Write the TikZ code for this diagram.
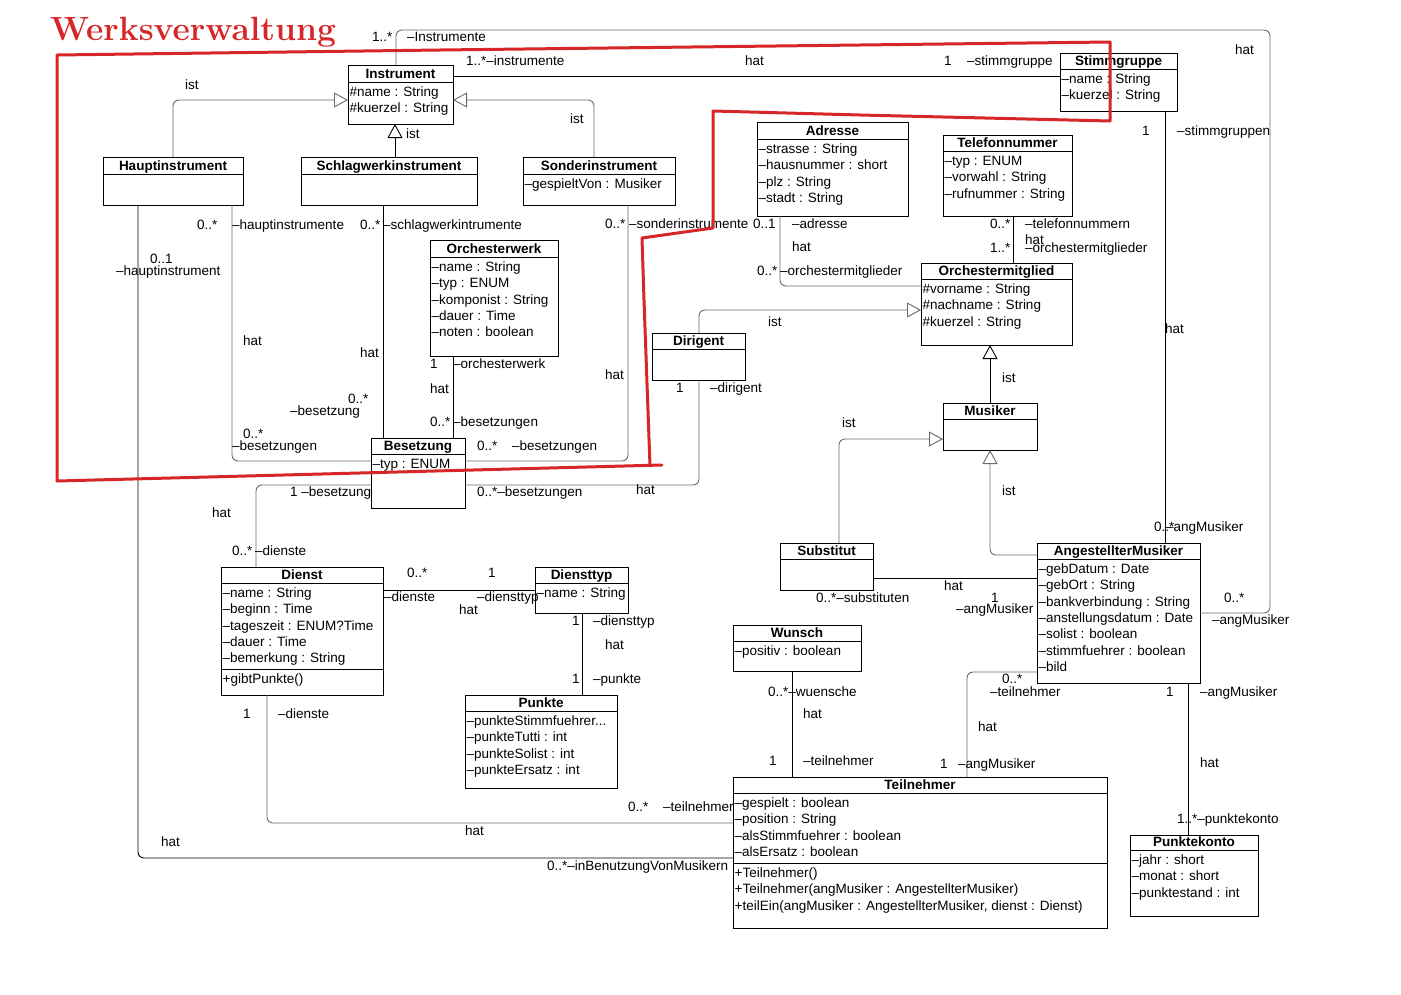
\documentclass[tikz,border=0pt]{standalone}
\usepackage{fontspec}
\newfontfamily\umlfont{Liberation Sans}
\usetikzlibrary{arrows.meta}
\definecolor{redmark}{RGB}{214,38,40}
\definecolor{connGray}{RGB}{105,105,105}
\tikzset{
 box/.style={draw=black, fill=white, line width=.9pt, inner sep=0pt, outer sep=0pt},
 sepline/.style={draw=black, line width=.9pt},
 ttl/.style={anchor=base, inner sep=0pt, font=\umlfont\bfseries\fontsize{13.5}{16}\selectfont},
 attr/.style={anchor=base west, inner sep=0pt, font=\umlfont\fontsize{13.5}{16}\selectfont},
 lbl/.style={anchor=base west, inner sep=0pt, font=\umlfont\fontsize{13.5}{16}\selectfont},
 assoc/.style={draw=black, line width=.9pt, rounded corners=6pt},
 assocg/.style={assoc, draw=connGray},
 gen/.style={draw=connGray, line width=.9pt, rounded corners=6pt, -{Triangle[open, length=14pt, width=15pt]}},
 redline/.style={draw=redmark, line width=3pt, line join=round, line cap=round},
 titlefont/.style={anchor=base west, inner sep=0pt, text=redmark, font=\bfseries\fontsize{33.6}{40}\selectfont},
}
\newcommand\umlbox[7]{%
 \node[box, minimum width={#4-#2}, minimum height={#5-#3}] (#1) at ({(#2+#4)/2},{(#3+#5)/2}) {};
 \draw[sepline] (#1.west |- 0,#6) -- (#1.east |- 0,#6);
 \node[ttl] (#1-t) at ({(#2+#4)/2},#6-3.5) {#7};
}
\newcommand\umllines[4]{%
 \foreach \umlt [count=\umli] in {#4} {\node[attr] (#1\umli) at (#2+1.5,#3+16.3*\umli-16.3) {\umlt};}
}
\newcommand\lab[4]{\node[lbl] (#1) at (#2,#3+4.5) {#4};}
\begin{document}
\begin{tikzpicture}[x=1pt,y=-1pt]
\useasboundingbox (0,0) rectangle (1401,994);

% ---------- classes ----------
\umlbox{inst}{348}{65}{453}{124}{82}{Instrument}
\umllines{inst-a}{348}{96.5}{\#name : String, \#kuerzel : String}
\umlbox{haupt}{103}{157}{243}{205}{174}{Hauptinstrument}
\umlbox{schlag}{301}{157}{477}{205}{174}{Schlagwerkinstrument}
\umlbox{sonder}{523}{157}{675}{205}{174}{Sonderinstrument}
\umllines{sonder-a}{523}{188.5}{–gespieltVon : Musiker}
\umlbox{stimm}{1060}{53}{1177}{111}{69}{Stimmgruppe}
\umllines{stimm-a}{1060}{83.5}{–name : String, –kuerzel : String}
\umlbox{adr}{757}{122}{908}{216}{139}{Adresse}
\umllines{adr-a}{757}{153.5}{–strasse : String, –hausnummer : short, –plz : String, –stadt : String}
\umlbox{tel}{943}{135}{1072}{216}{151}{Telefonnummer}
\umllines{tel-a}{943}{165.5}{–typ : ENUM, –vorwahl : String, –rufnummer : String}
\umlbox{werk}{430}{240}{558}{356}{257}{Orchesterwerk}
\umllines{werk-a}{430}{271.5}{–name : String, –typ : ENUM, –komponist : String, –dauer : Time, –noten : boolean}
\umlbox{bes}{371}{438}{465}{508}{454}{Besetzung}
\umllines{bes-a}{371}{468.5}{–typ : ENUM}
\umlbox{om}{921}{263}{1072}{345}{279}{Orchestermitglied}
\umllines{om-a}{921}{293.5}{\#vorname : String, \#nachname : String, \#kuerzel : String}
\umlbox{dir}{652}{333}{745}{380}{349}{Dirigent}
\umlbox{mus}{943}{403}{1037}{450}{419}{Musiker}
\umlbox{sub}{780}{543}{873}{590}{559}{Substitut}
\umlbox{ang}{1037}{543}{1200}{683}{559}{AngestellterMusiker}
\umllines{ang-a}{1037}{573.5}{–gebDatum : Date, –gebOrt : String, –bankverbindung : String, –anstellungsdatum : Date, –solist : boolean, –stimmfuehrer : boolean, –bild}
\umlbox{dienst}{221}{567}{383}{695}{583}{Dienst}
\umllines{dienst-a}{221}{597.5}{–name : String, –beginn : Time, –tageszeit : ENUM?Time, –dauer : Time, –bemerkung : String}
\draw[sepline] (dienst.west |- 0,669) -- (dienst.east |- 0,669);
\umllines{dienst-m}{221}{683.5}{+gibtPunkte()}
\umlbox{dtyp}{535}{567}{628}{613}{583}{Diensttyp}
\umllines{dtyp-a}{535}{597.5}{–name : String}
\umlbox{punkte}{465}{695}{617}{788}{711}{Punkte}
\umllines{punkte-a}{465}{725.5}{–punkteStimmfuehrer.{}.{}., –punkteTutti : int, –punkteSolist : int, –punkteErsatz : int}
\umlbox{wunsch}{733}{625}{861}{671}{641}{Wunsch}
\umllines{wunsch-a}{733}{655.5}{–positiv : boolean}
\umlbox{teil}{733}{777}{1107}{928}{793}{Teilnehmer}
\umllines{teil-a}{733}{807.5}{–gespielt : boolean, –position : String, –alsStimmfuehrer : boolean, –alsErsatz : boolean}
\draw[sepline] (teil.west |- 0,863) -- (teil.east |- 0,863);
\umllines{teil-m}{733}{877.5}{+Teilnehmer(), +Teilnehmer(angMusiker : AngestellterMusiker), {+teilEin(angMusiker : AngestellterMusiker, dienst : Dienst)}}
\umlbox{pk}{1130}{835}{1258}{916}{850}{Punktekonto}
\umllines{pk-a}{1130}{864.5}{–jahr : short, –monat : short, –punktestand : int}

% ---------- generalisations ----------
\draw[gen] (haupt.north -| 173,0) |- (inst.west |- 0,100);
\draw[gen,draw=black] (schlag.north -| 395,0) -- (inst.south -| 395,0);
\draw[gen] (sonder.north -| 594,0) |- (inst.east |- 0,100);
\draw[gen] (dir.north -| 699,0) |- (om.west |- 0,310);
\draw[gen,draw=black] (mus.north -| 990,0) -- (om.south -| 990,0);
\draw[gen] (sub.north -| 839,0) |- (mus.west |- 0,439);
\draw[gen] (ang.west |- 0,555) -| (mus.south -| 990,0);

% ---------- associations ----------
\coordinate (loopcorner) at (1270,30);
\draw[assoc] (inst.east |- 0,76) -- (stimm.west |- 0,76);
\draw[assocg] (inst.north -| 396,0) |- (loopcorner) |- (ang.east |- 0,613);
\draw[assoc] (stimm.south -| 1165,0) -- (ang.north -| 1165,0);
\draw[assoc] (tel.south -| 1013,0) -- (om.north -| 1013,0);
\draw[assocg] (adr.south -| 780,0) |- (om.west |- 0,286);
\draw[assocg] (haupt.south -| 232,0) |- (bes.west |- 0,461);
\draw[assoc] (schlag.south -| 383,0) -- (bes.north -| 383,0);
\draw[assoc] (werk.south -| 453,0) -- (bes.north -| 453,0);
\draw[assocg] (sonder.south -| 628,0) |- (bes.east |- 0,461);
\draw[assocg] (bes.west |- 0,485) -| (dienst.north -| 256,0);
\draw[assocg] (bes.east |- 0,485) -| (dir.south -| 699,0);
\draw[assoc] (haupt.south -| 138,0) |- (teil.west |- 0,858);
\draw[assocg] (dienst.south -| 267,0) |- (teil.west |- 0,823);
\draw[assoc] (dienst.east |- 0,590) -- (dtyp.west |- 0,590);
\draw[assoc] (dtyp.south -| 582,0) -- (punkte.north -| 582,0);
\draw[assoc] (wunsch.south -| 792,0) -- (teil.north -| 792,0);
\draw[assocg] (ang.west |- 0,672) -| (teil.north -| 967,0);
\draw[assoc] (ang.south -| 1188,0) -- (pk.north -| 1188,0);
\draw[assoc] (sub.east |- 0,578) -- (ang.west |- 0,578);

% ---------- labels ----------
\lab{l1}{372}{37}{1..*}
\lab{l2}{407}{37}{–Instrumente}
\lab{l3}{185}{85}{ist}
\lab{l4}{406}{134}{ist}
\lab{l5}{570}{119}{ist}
\lab{l6}{466}{61}{1..*–instrumente}
\lab{l7}{745}{61}{hat}
\lab{l8}{944}{61}{1}
\lab{l9}{967}{61}{–stimmgruppe}
\lab{l10}{1235}{50}{hat}
\lab{l11}{1142}{131}{1}
\lab{l12}{1177}{131}{–stimmgruppen}
\lab{l13}{1165}{329}{hat}
\lab{l14}{1154}{527}{0..*}
\lab{l15}{1166}{527}{–angMusiker}
\lab{l16}{197}{225}{0..*}
\lab{l17}{232}{225}{–hauptinstrumente}
\lab{l18}{360}{225}{0..*}
\lab{l19}{383}{225}{–schlagwerkintrumente}
\lab{l20}{605}{224}{0..*}
\lab{l21}{629}{224}{–sonderinstrumente}
\lab{l22}{753}{224}{0..1}
\lab{l23}{792}{224}{–adresse}
\lab{l24}{792}{247}{hat}
\lab{l25}{757}{271}{0..*}
\lab{l26}{780}{271}{–orchestermitglieder}
\lab{l27}{990}{224}{0..*}
\lab{l28}{1025}{224}{–telefonnummern}
\lab{l29}{990}{248}{1..*}
\lab{l30}{1025}{240}{hat}
\lab{l31}{1025}{248}{–orchestermitglieder}
\lab{l32}{150}{259}{0..1}
\lab{l33}{116}{271}{–hauptinstrument}
\lab{l34}{243}{341}{hat}
\lab{l35}{360}{353}{hat}
\lab{l36}{348}{399}{0..*}
\lab{l37}{290}{411}{–besetzung}
\lab{l38}{243}{434}{0..*}
\lab{l39}{232}{446}{–besetzungen}
\lab{l40}{430}{364}{1}
\lab{l41}{453}{364}{–orchesterwerk}
\lab{l42}{430}{389}{hat}
\lab{l43}{430}{422}{0..*}
\lab{l44}{453}{422}{–besetzungen}
\lab{l45}{477}{446}{0..*}
\lab{l46}{512}{446}{–besetzungen}
\lab{l47}{605}{375}{hat}
\lab{l48}{290}{492}{1 –besetzung}
\lab{l49}{477}{492}{0..*–besetzungen}
\lab{l50}{636}{490}{hat}
\lab{l51}{212}{513}{hat}
\lab{l52}{768}{322}{ist}
\lab{l53}{676}{388}{1}
\lab{l54}{710}{388}{–dirigent}
\lab{l55}{1002}{378}{ist}
\lab{l56}{842}{423}{ist}
\lab{l57}{1002}{491}{ist}
\lab{l58}{232}{551}{0..*}
\lab{l59}{255}{551}{–dienste}
\lab{l60}{407}{573}{0..*}
\lab{l61}{488}{573}{1}
\lab{l62}{384}{597}{–dienste}
\lab{l63}{477}{597}{–diensttyp}
\lab{l64}{459}{610}{hat}
\lab{l65}{572}{621}{1}
\lab{l66}{593}{621}{–diensttyp}
\lab{l67}{605}{645}{hat}
\lab{l68}{572}{679}{1}
\lab{l69}{593}{679}{–punkte}
\lab{l70}{243}{714}{1}
\lab{l71}{278}{714}{–dienste}
\lab{l72}{944}{586}{hat}
\lab{l73}{816}{598}{0..*–substituten}
\lab{l74}{991}{598}{1}
\lab{l75}{956}{609}{–angMusiker}
\lab{l76}{1224}{598}{0..*}
\lab{l77}{1212}{620}{–angMusiker}
\lab{l78}{768}{692}{0..*–wuensche}
\lab{l79}{803}{714}{hat}
\lab{l80}{769}{761}{1}
\lab{l81}{803}{761}{–teilnehmer}
\lab{l82}{1002}{679}{0..*}
\lab{l83}{990}{692}{–teilnehmer}
\lab{l84}{978}{727}{hat}
\lab{l85}{940}{764}{1}
\lab{l86}{958}{764}{–angMusiker}
\lab{l87}{1166}{692}{1}
\lab{l88}{1200}{692}{–angMusiker}
\lab{l89}{1200}{763}{hat}
\lab{l90}{628}{807}{0..*}
\lab{l91}{663}{807}{–teilnehmer}
\lab{l92}{465}{831}{hat}
\lab{l93}{161}{842}{hat}
\lab{l94}{547}{866}{0..*–inBenutzungVonMusikern}
\lab{l95}{1177}{819}{1..*–punktekonto}

% ---------- red hand-drawn markup ----------
\node[titlefont] (title) at (50,40) {Werksverwaltung};
\draw[redline] (57,481) -- (57,55) -- (440,50) -- (860,45) -- (1110,42) -- (1110,121)
  -- (860,115) -- (713,111) -- (713,228) -- (642,238) -- (644,300) -- (650,466);
\draw[redline] (662,465) -- (57,481);
\end{tikzpicture}
\end{document}
